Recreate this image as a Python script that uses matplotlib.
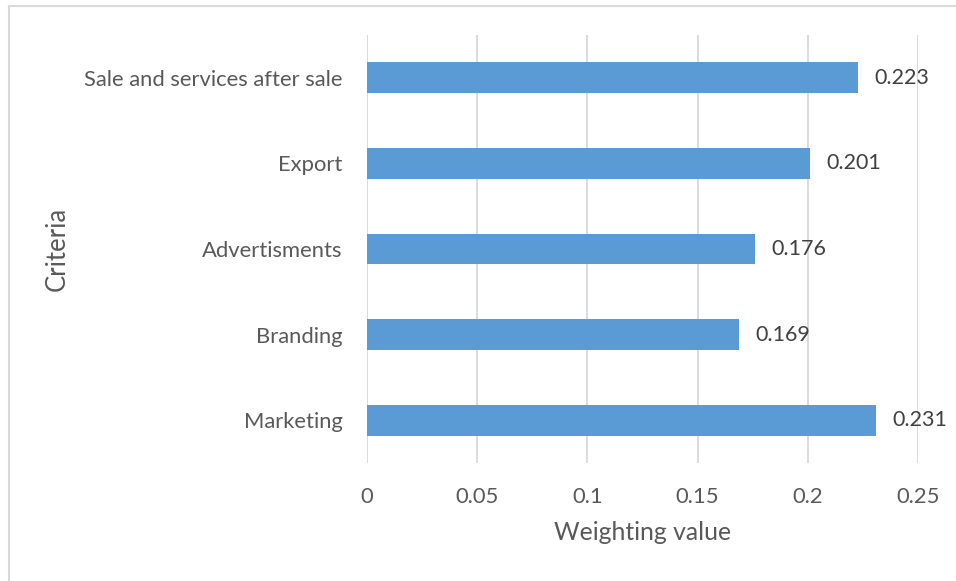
import matplotlib
matplotlib.use("Agg")
import matplotlib.pyplot as plt
from matplotlib.lines import Line2D

criteria = ["Marketing", "Branding", "Advertisments", "Export", "Sale and services after sale"]
weights = [0.231, 0.169, 0.176, 0.201, 0.223]
x_ticks = [0, 0.05, 0.1, 0.15, 0.2, 0.25]
x_tick_labels = ["0", "0.05", "0.1", "0.15", "0.2", "0.25"]

plt.rcParams['font.family'] = ['Lato', 'DejaVu Sans']
text_color = "#595959"
bar_color = "#5B9BD5"
grid_color = "#D9D9D9"

W, H = 956, 581
fig = plt.figure(figsize=(W / 100, H / 100), dpi=100)
ax = fig.add_axes([367 / W, 1 - 463 / H, (918 - 367) / W, (463 - 35) / H])

pos = list(range(len(criteria)))
ax.barh(pos, weights, height=0.36, color=bar_color, zorder=3)
for p, v in zip(pos, weights):
    ax.annotate(f"{v:.3f}", xy=(v, p), xytext=(11.5, 0), textcoords="offset points",
                va="center", ha="left", fontsize=15.5, color="#404040")

ax.set_xlim(0, 0.25)
ax.set_ylim(-0.5, len(criteria) - 0.5)
ax.set_xticks(x_ticks)
ax.set_xticklabels(x_tick_labels)
ax.set_yticks(pos)
ax.set_yticklabels(criteria)
ax.tick_params(axis="both", length=0, labelcolor=text_color)
ax.tick_params(axis="y", labelsize=15.8, pad=17.5)
ax.tick_params(axis="x", labelsize=15.8, pad=17)
ax.grid(axis="x", color=grid_color, linewidth=1.3, zorder=0)
for s in ax.spines.values():
    s.set_visible(False)

ax.set_xlabel("Weighting value", fontsize=17.8, color=text_color, labelpad=10)
ax.set_ylabel("Criteria", fontsize=18.5, color=text_color, labelpad=0)
ax.yaxis.set_label_coords((70 - 367) / (918 - 367), 0.5)

# light frame around the chart
fig.add_artist(Line2D([8.5 / W, 8.5 / W], [0, 1 - 6 / H], transform=fig.transFigure,
                      color="#D9D9D9", linewidth=1.5))
fig.add_artist(Line2D([8.5 / W, 1], [1 - 6 / H, 1 - 6 / H], transform=fig.transFigure,
                      color="#D9D9D9", linewidth=1.5))

fig.savefig("out.png", dpi=100)
